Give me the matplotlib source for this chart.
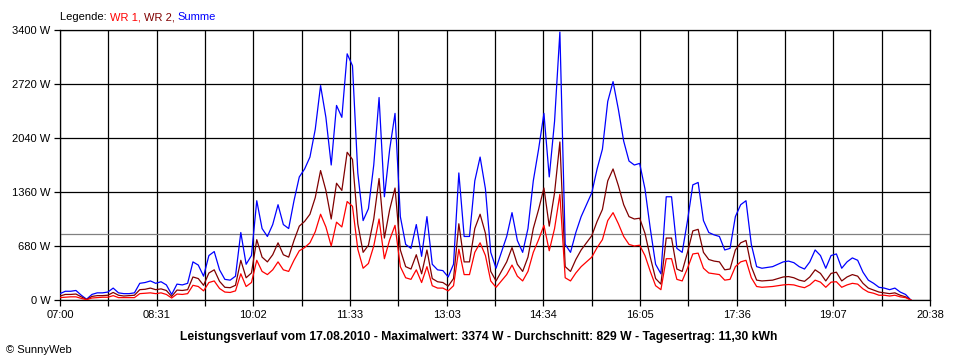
import matplotlib
matplotlib.use("Agg")
import matplotlib.pyplot as plt
import numpy as np

# ---------------- data ----------------
# minutes after 07:00, 5-minute samples
minutes = np.arange(0, 805, 5)

summe = [80, 110, 110, 120, 60, 10, 70, 90, 90, 100,
         150, 90, 80, 80, 90, 210, 220, 240, 210, 230,
         190, 70, 200, 190, 210, 480, 440, 300, 560, 610,
         380, 260, 250, 300, 850, 450, 560, 1250, 900, 800,
         950, 1200, 950, 900, 1250, 1550, 1650, 1800, 2150, 2700,
         2300, 1700, 2450, 2300, 3100, 2950, 1600, 1000, 1150, 1700,
         2550, 1300, 1900, 2350, 1050, 700, 650, 950, 550, 1050,
         450, 380, 370, 290, 450, 1600, 800, 800, 1500, 1800,
         1400, 600, 400, 600, 800, 1100, 750, 600, 900, 1500,
         1900, 2350, 1550, 2250, 3374, 700, 600, 850, 1050, 1200,
         1350, 1650, 1900, 2500, 2750, 2400, 2000, 1750, 1700, 1720,
         1400, 900, 450, 330, 1300, 1300, 650, 600, 1000, 1450,
         1480, 1000, 850, 820, 800, 630, 650, 1050, 1200, 1250,
         700, 420, 400, 410, 420, 450, 480, 490, 470, 420,
         390, 480, 630, 560, 400, 560, 580, 400, 480, 530,
         500, 350, 250, 210, 160, 150, 130, 150, 100, 70,
         0]

wr2 = [50, 70, 70, 75, 40, 5, 45, 55, 55, 60,
       95, 60, 50, 55, 60, 130, 135, 150, 130, 140,
       120, 45, 125, 120, 130, 290, 270, 185, 340, 380,
       235, 160, 155, 185, 500, 280, 340, 760, 540, 480,
       570, 720, 570, 540, 750, 930, 990, 1080, 1290, 1630,
       1380, 1020, 1470, 1380, 1860, 1770, 960, 600, 690, 1020,
       1530, 780, 1140, 1410, 630, 420, 390, 570, 330, 630,
       270, 230, 220, 175, 270, 960, 480, 480, 900, 1080,
       840, 360, 240, 360, 480, 660, 450, 360, 540, 900,
       1140, 1410, 930, 1350, 1990, 420, 360, 510, 630, 720,
       810, 990, 1140, 1500, 1650, 1440, 1200, 1050, 1020, 1030,
       840, 540, 270, 200, 780, 780, 390, 360, 600, 870,
       890, 600, 510, 490, 480, 380, 390, 630, 720, 750,
       420, 250, 240, 245, 250, 270, 290, 295, 280, 250,
       235, 290, 380, 335, 240, 335, 350, 240, 290, 320,
       300, 210, 150, 125, 100, 90, 80, 90, 60, 40,
       0]

wr1 = [30, 35, 40, 40, 20, 5, 25, 30, 35, 35,
       55, 30, 30, 30, 30, 80, 85, 90, 80, 90,
       70, 25, 75, 70, 80, 185, 170, 115, 220, 240,
       145, 100, 95, 115, 330, 170, 220, 500, 360, 320,
       380, 480, 380, 360, 500, 620, 660, 720, 860, 1080,
       920, 680, 980, 920, 1240, 1180, 640, 400, 460, 680,
       1020, 520, 760, 940, 420, 280, 260, 380, 220, 420,
       180, 150, 150, 115, 180, 640, 320, 320, 600, 720,
       560, 240, 160, 240, 320, 440, 300, 240, 360, 600,
       760, 940, 620, 900, 1330, 280, 240, 340, 420, 480,
       540, 660, 760, 1000, 1100, 960, 800, 700, 680, 690,
       560, 360, 180, 130, 520, 520, 260, 240, 400, 580,
       590, 400, 340, 330, 320, 250, 260, 420, 480, 500,
       280, 170, 160, 165, 170, 180, 190, 195, 190, 170,
       155, 190, 250, 225, 160, 225, 230, 160, 190, 210,
       200, 140, 100, 85, 60, 60, 50, 60, 40, 30,
       0]

average = 829
x_span = 818  # 07:00 .. 20:38
x_tick_labels = ["07:00", "08:31", "10:02", "11:33", "13:03",
                 "14:34", "16:05", "17:36", "19:07", "20:38"]
y_ticks = [0, 680, 1360, 2040, 2720, 3400]

title = ("Leistungsverlauf vom 17.08.2010 - Maximalwert: 3374 W - "
         "Durchschnitt: 829 W - Tagesertrag: 11,30 kWh")

# ---------------- figure ----------------
plt.rcParams['font.family'] = ['Liberation Sans', 'DejaVu Sans']

fig = plt.figure(figsize=(9.6, 3.6), dpi=100)
fig.patch.set_facecolor('white')
ax = fig.add_axes([60 / 960, 60 / 360, 870 / 960, 270 / 360])

lw = 0.9
ax.axhline(average, color='#808080', lw=lw, zorder=2)
ax.plot(minutes, summe, color='#0000ff', lw=lw, zorder=3)
ax.plot(minutes, wr2, color='#800000', lw=lw, zorder=4)
ax.plot(minutes, wr1, color='#ff0000', lw=lw, zorder=5)

ax.set_xlim(0, x_span)
ax.set_ylim(0, 3400)
step = x_span / 9
ax.set_xticks([i * step for i in range(10)])
ax.set_xticklabels(x_tick_labels)
ax.set_xticks([(i + 0.5) * step for i in range(9)], minor=True)
ax.set_yticks(y_ticks)
ax.set_yticklabels([f"{v} W" for v in y_ticks])
ax.set_axisbelow(True)
ax.grid(True, which='both', axis='x', color='black', lw=lw)
ax.grid(True, which='major', axis='y', color='black', lw=lw)
ax.tick_params(which='both', direction='out', length=4, width=lw,
               colors='black', labelsize=8, pad=3)
for s in ax.spines.values():
    s.set_linewidth(lw)
    s.set_color('black')

# legend line at top
fig.canvas.draw()
renderer = fig.canvas.get_renderer()
x0 = 60 / 960
yl = 1 - 17 / 360
for txt, col in [("Legende: ", "black"), ("WR 1, ", "#ff0000"),
                 ("WR 2, ", "#800000"), ("Summe", "#0000ff")]:
    t = fig.text(x0, yl, txt, color=col, fontsize=8, va='center', ha='left')
    bb = t.get_window_extent(renderer)
    x0 += bb.width / fig.bbox.width

fig.text(0.499, 1 - 337 / 360, title, fontsize=8.7, fontweight='bold',
         ha='center', va='center', color='black')
fig.text(6 / 960, 1 - 350 / 360, "\u00a9 SunnyWeb", fontsize=8,
         ha='left', va='center', color='black')

fig.savefig("out.png", dpi=100, facecolor='white')
